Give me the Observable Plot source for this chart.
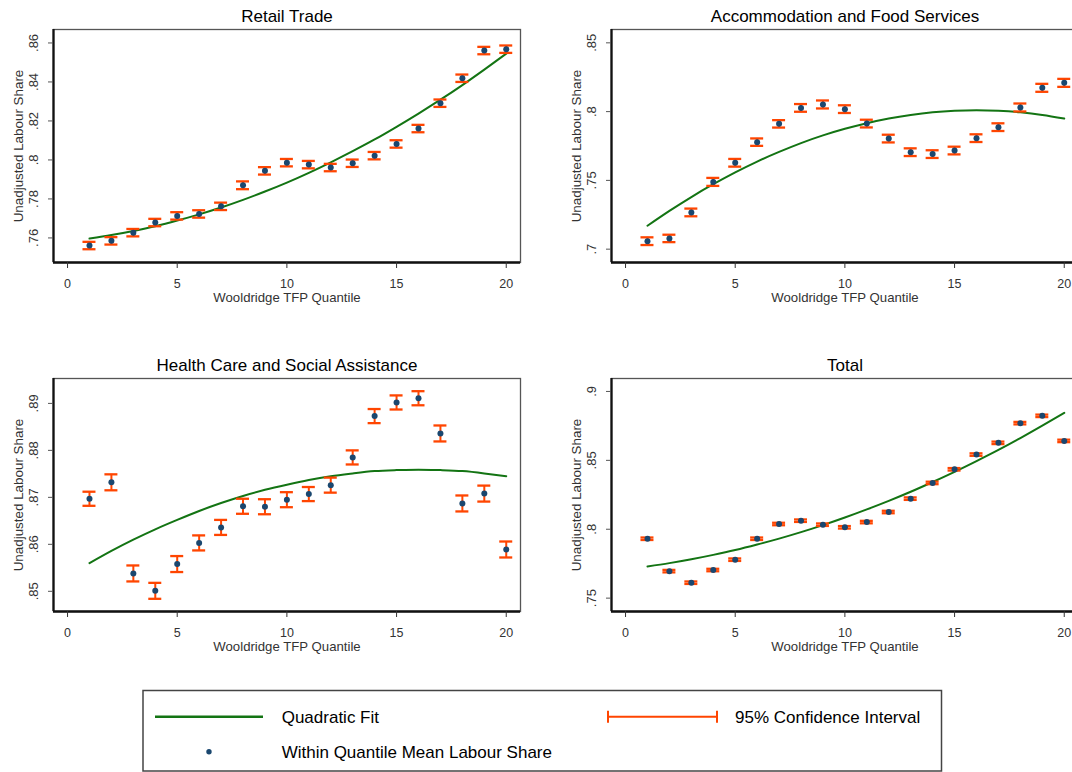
<!DOCTYPE html>
<html>
<head>
<meta charset="utf-8">
<script src="https://cdn.jsdelivr.net/npm/d3@7"></script>
<script src="https://cdn.jsdelivr.net/npm/@observablehq/plot@0.6"></script>
<style>
html, body { margin: 0; padding: 0; background: #fff; overflow: hidden; }
#fig { position: relative; width: 1072px; height: 772px; overflow: hidden; background: #fff;
       font-family: "Liberation Sans", Arial, sans-serif; }
.panel { position: absolute; }
</style>
</head>
<body>
<div id="fig"></div>
<script>
// ---------------- data ----------------
const quantiles = [1, 2, 3, 4, 5, 6, 7, 8, 9, 10, 11, 12, 13, 14, 15, 16, 17, 18, 19, 20];
const xTicks = [0, 5, 10, 15, 20];

const retailMean = [0.7561, 0.7585, 0.7627, 0.7679, 0.7713, 0.7723, 0.7762, 0.7870, 0.7944, 0.7986,
                    0.7976, 0.7961, 0.7983, 0.8022, 0.8082, 0.8161, 0.8291, 0.8419, 0.8561, 0.8568];
const retailHalf = [0.0019, 0.0019, 0.0019, 0.0019, 0.0019, 0.0019, 0.0019, 0.0020, 0.0019, 0.0019,
                    0.0019, 0.0019, 0.0019, 0.0019, 0.0019, 0.0019, 0.0019, 0.0019, 0.0019, 0.0019];
const retailFit  = [0.7597, 0.7615, 0.7636, 0.7660, 0.7689, 0.7721, 0.7756, 0.7795, 0.7838, 0.7884,
                    0.7934, 0.7988, 0.8045, 0.8105, 0.8170, 0.8238, 0.8309, 0.8384, 0.8463, 0.8545];
const retailYTicks = [0.76, 0.78, 0.80, 0.82, 0.84, 0.86];
const retailYLabels = [".76", ".78", ".8", ".82", ".84", ".86"];

const accomMean = [0.7058, 0.7078, 0.7267, 0.7489, 0.7628, 0.7778, 0.7911, 0.8027, 0.8052, 0.8018,
                   0.7913, 0.7804, 0.7705, 0.7691, 0.7717, 0.7807, 0.7887, 0.8030, 0.8173, 0.8209];
const accomHalf = [0.0028, 0.0027, 0.0028, 0.0029, 0.0028, 0.0027, 0.0027, 0.0028, 0.0029, 0.0028,
                   0.0028, 0.0028, 0.0028, 0.0028, 0.0028, 0.0028, 0.0028, 0.0029, 0.0029, 0.0029];
const accomFit  = [0.7170, 0.7278, 0.7379, 0.7472, 0.7558, 0.7637, 0.7707, 0.7771, 0.7827, 0.7875,
                   0.7916, 0.7950, 0.7976, 0.7995, 0.8006, 0.8010, 0.8006, 0.7995, 0.7976, 0.7950];
const accomYTicks = [0.70, 0.75, 0.80, 0.85];
const accomYLabels = [".7", ".75", ".8", ".85"];

const healthMean = [0.8697, 0.8732, 0.8538, 0.8501, 0.8558, 0.8603, 0.8636, 0.8681, 0.8680, 0.8695,
                    0.8707, 0.8726, 0.8785, 0.8873, 0.8902, 0.8911, 0.8836, 0.8687, 0.8708, 0.8589];
const healthHalf = [0.0015, 0.0017, 0.0017, 0.0017, 0.0017, 0.0016, 0.0016, 0.0016, 0.0016, 0.0016,
                    0.0015, 0.0016, 0.0015, 0.0015, 0.0015, 0.0015, 0.0017, 0.0017, 0.0017, 0.0017];
const healthFit  = [0.8560, 0.8586, 0.8610, 0.8632, 0.8652, 0.8671, 0.8688, 0.8703, 0.8716, 0.8727,
                    0.8737, 0.8745, 0.8751, 0.8756, 0.8758, 0.8759, 0.8758, 0.8756, 0.8751, 0.8745];
const healthYTicks = [0.85, 0.86, 0.87, 0.88, 0.89];
const healthYLabels = [".85", ".86", ".87", ".88", ".89"];

const totalMean = [0.7931, 0.7696, 0.7612, 0.7704, 0.7779, 0.7931, 0.8038, 0.8062, 0.8033, 0.8014,
                   0.8052, 0.8125, 0.8222, 0.8336, 0.8435, 0.8542, 0.8627, 0.8770, 0.8823, 0.8641];
const totalHalf = [0.0009, 0.0009, 0.0009, 0.0009, 0.0009, 0.0009, 0.0009, 0.0009, 0.0009, 0.0009,
                   0.0009, 0.0009, 0.0009, 0.0009, 0.0009, 0.0009, 0.0009, 0.0009, 0.0009, 0.0009];
const totalFit  = [0.7730, 0.7754, 0.7782, 0.7814, 0.7849, 0.7889, 0.7932, 0.7979, 0.8030, 0.8085,
                   0.8144, 0.8206, 0.8272, 0.8343, 0.8417, 0.8495, 0.8576, 0.8662, 0.8752, 0.8845];
const totalYTicks = [0.75, 0.80, 0.85, 0.90];
const totalYLabels = [".75", ".8", ".85", ".9"];

// ---------------- styling ----------------
const FONT = '"Liberation Sans", Arial, sans-serif';
const NAVY = "#1a476f";
const ORANGE = "#ff4500";
const GREEN = "#137413";
const xDomain = [-0.64, 20.65];

function panel({title, mean, half, fit, yDomain, yTicks, yLabels, left, top}) {
  const data = quantiles.map((q, i) => ({q, m: mean[i], lo: mean[i] - half[i], hi: mean[i] + half[i]}));
  const fitData = quantiles.map((q, i) => ({q, f: fit[i]}));
  const tickData = yTicks.map((v, i) => ({v, label: yLabels[i]}));
  const capOpts = {x1: "q", x2: "q", insetLeft: -6.5, insetRight: -6.5, stroke: ORANGE, strokeWidth: 2.3};
  const p = Plot.plot({
    width: 540, height: 320,
    marginLeft: 53, marginRight: 20, marginTop: 29, marginBottom: 58,
    x: {domain: xDomain},
    y: {domain: yDomain},
    style: {fontFamily: FONT, background: "transparent", color: "#333", overflow: "visible"},
    marks: [
      Plot.frame({stroke: "#555", strokeWidth: 1.3}),
      Plot.line(fitData, {x: "q", y: "f", stroke: GREEN, strokeWidth: 2, curve: "natural"}),
      Plot.ruleX(data, {x: "q", y1: "lo", y2: "hi", stroke: ORANGE, strokeWidth: 2}),
      Plot.ruleY(data, {...capOpts, y: "lo"}),
      Plot.ruleY(data, {...capOpts, y: "hi"}),
      Plot.dot(data, {x: "q", y: "m", r: 3, fill: NAVY, stroke: "none"}),
      Plot.ruleX([xDomain[0]], {stroke: "#111", strokeWidth: 2.3}),
      Plot.ruleY([yDomain[0]], {stroke: "#111", strokeWidth: 2.3}),
      Plot.axisX({ticks: xTicks, tickSize: 6, tickPadding: 11, fontSize: 12.5, label: null, stroke: "#333"}),
      Plot.axisY({ticks: yTicks, tickSize: 5, tickFormat: () => "", label: null, stroke: "#555"}),
      Plot.text(tickData, {y: "v", text: "label", frameAnchor: "left", dx: -19.4, rotate: -90,
                           textAnchor: "middle", lineAnchor: "middle", fontSize: 13, fill: "#333"}),
      Plot.text([title], {text: d => d, frameAnchor: "top", dy: -12.6, lineAnchor: "middle",
                          fontSize: 17, fill: "#000"}),
      Plot.text(["Wooldridge TFP Quantile"], {text: d => d, frameAnchor: "bottom", dy: 35.4,
                          lineAnchor: "middle", fontSize: 13.2, fill: "#333"}),
      Plot.text(["Unadjusted Labour Share"], {text: d => d, frameAnchor: "left", dx: -34.4, rotate: -90,
                          lineAnchor: "middle", textAnchor: "middle", fontSize: 13.4, fill: "#333"})
    ]
  });
  p.classList.add("panel");
  p.style.left = left + "px";
  p.style.top = top + "px";
  document.getElementById("fig").appendChild(p);
}

panel({title: "Retail Trade", mean: retailMean, half: retailHalf, fit: retailFit,
       yDomain: [0.7474, 0.8669], yTicks: retailYTicks, yLabels: retailYLabels, left: 0, top: 0});
panel({title: "Accommodation and Food Services", mean: accomMean, half: accomHalf, fit: accomFit,
       yDomain: [0.6903, 0.8597], yTicks: accomYTicks, yLabels: accomYLabels, left: 558, top: 0});
panel({title: "Health Care and Social Assistance", mean: healthMean, half: healthHalf, fit: healthFit,
       yDomain: [0.8457, 0.8953], yTicks: healthYTicks, yLabels: healthYLabels, left: 0, top: 349});
panel({title: "Total", mean: totalMean, half: totalHalf, fit: totalFit,
       yDomain: [0.7403, 0.9094], yTicks: totalYTicks, yLabels: totalYLabels, left: 558, top: 349});

// ---------------- legend ----------------
const lg = d3.select("#fig").append("svg")
  .attr("class", "panel")
  .style("left", "0px").style("top", "680px")
  .attr("width", 1072).attr("height", 92)
  .style("font-family", FONT);
lg.append("rect").attr("x", 143).attr("y", 10.5).attr("width", 798.5).attr("height", 80.5)
  .attr("fill", "#fff").attr("stroke", "#444").attr("stroke-width", 1.5);
lg.append("line").attr("x1", 155).attr("x2", 263).attr("y1", 36.7).attr("y2", 36.7)
  .attr("stroke", GREEN).attr("stroke-width", 2.5);
lg.append("circle").attr("cx", 209).attr("cy", 71.7).attr("r", 2.7).attr("fill", NAVY);
const ci = lg.append("g").attr("stroke", ORANGE).attr("stroke-width", 2);
ci.append("line").attr("x1", 608).attr("x2", 717).attr("y1", 36.7).attr("y2", 36.7);
ci.append("line").attr("x1", 608).attr("x2", 608).attr("y1", 30.7).attr("y2", 42.7);
ci.append("line").attr("x1", 717).attr("x2", 717).attr("y1", 30.7).attr("y2", 42.7);
const legendTexts = [
  {x: 281.7, y: 36.7, t: "Quadratic Fit"},
  {x: 735, y: 36.7, t: "95% Confidence Interval"},
  {x: 281.7, y: 71.7, t: "Within Quantile Mean Labour Share"}
];
lg.selectAll("text.lt").data(legendTexts).join("text")
  .attr("x", d => d.x).attr("y", d => d.y).attr("dy", "0.35em")
  .attr("font-size", 17).attr("fill", "#000").text(d => d.t);
</script>
</body>
</html>
